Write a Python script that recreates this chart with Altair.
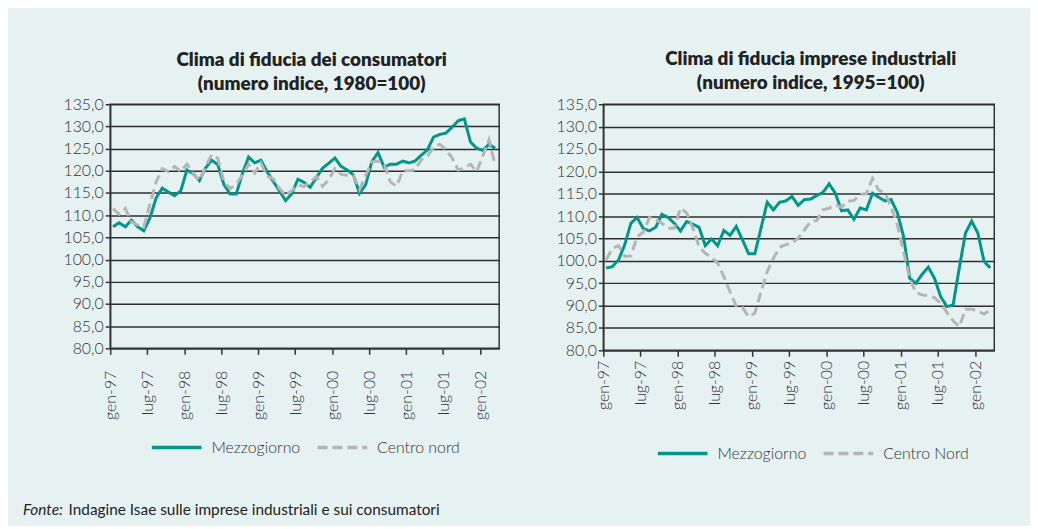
import altair as alt
import pandas as pd

# ---------------- data ----------------
tick_labels = ["gen-97", "lug-97", "gen-98", "lug-98", "gen-99", "lug-99",
               "gen-00", "lug-00", "gen-01", "lug-01", "gen-02"]
tick_months = [0, 6, 12, 18, 24, 30, 36, 42, 48, 54, 60]
y_ticks = [80, 85, 90, 95, 100, 105, 110, 115, 120, 125, 130, 135]

# Clima di fiducia dei consumatori (1980=100), gen-97 .. mar-02
cons_mezzo = [107.4, 108.3, 107.4, 108.9, 107.4, 106.5, 109.4, 113.9, 116.1, 115.2,
              114.4, 115.5, 120.2, 119.4, 117.8, 120.6, 122.4, 121.4, 116.9, 114.8,
              114.8, 119.4, 123.1, 121.8, 122.4, 119.8, 117.6, 115.5, 113.3, 114.8,
              118.1, 117.4, 116.3, 118.5, 120.6, 121.7, 122.9, 121.0, 120.2, 119.1,
              114.9, 116.9, 122.1, 124.1, 120.8, 121.5, 121.5, 122.2, 121.8, 122.2,
              123.5, 124.7, 127.6, 128.2, 128.5, 129.8, 131.3, 131.7, 126.5, 125.1,
              124.6, 126.0, 125.1]
cons_centro = [111.5, 110.2, 111.5, 108.5, 107.8, 107.3, 112.5, 117.5, 120.5, 119.8,
               121.0, 119.8, 121.5, 119.5, 117.8, 120.8, 123.6, 122.8, 117.5, 116.0,
               117.0, 119.0, 121.5, 119.5, 121.8, 118.8, 118.2, 116.0, 114.5, 115.5,
               116.8, 116.5, 117.5, 118.7, 116.5, 118.0, 120.5, 119.2, 119.0, 119.0,
               115.8, 119.0, 122.0, 122.2, 121.5, 117.5, 116.5, 120.0, 120.0, 120.2,
               122.5, 123.3, 125.3, 126.0, 124.8, 123.0, 120.2, 120.6, 121.5, 119.8,
               123.4, 127.0, 121.3]

# Clima di fiducia imprese industriali (1995=100), gen-97 .. mar-02
imp_mezzo = [98.4, 98.7, 100.2, 103.6, 108.4, 109.7, 107.2, 106.7, 107.5, 110.4,
             109.7, 108.4, 106.7, 108.8, 108.2, 107.5, 103.4, 104.9, 103.4, 106.8,
             105.7, 107.7, 104.7, 101.6, 101.6, 107.3, 113.1, 111.4, 113.1, 113.4,
             114.4, 112.4, 113.7, 113.8, 114.6, 115.3, 117.2, 115.1, 111.2, 111.4,
             109.3, 111.8, 111.4, 115.1, 114.2, 113.4, 113.7, 110.8, 105.5, 96.1,
             95.0, 97.0, 98.6, 96.1, 92.0, 89.8, 90.1, 98.4, 106.2, 108.9,
             106.2, 99.9, 98.4]
imp_centro = [100.2, 102.8, 103.4, 101.0, 101.1, 105.4, 106.4, 109.7, 109.2, 108.4,
              107.3, 107.3, 111.8, 110.7, 107.3, 103.2, 101.7, 100.8, 99.5, 96.5,
              93.1, 89.9, 89.6, 87.5, 88.3, 93.1, 97.6, 100.6, 103.0, 103.6,
              104.0, 105.1, 106.9, 108.8, 109.0, 111.4, 111.8, 112.5, 112.0, 113.3,
              113.5, 114.9, 115.0, 118.4, 115.8, 115.2, 112.0, 108.1, 102.1, 96.0,
              92.9, 92.4, 92.2, 91.8, 90.5, 88.5, 86.6, 85.3, 89.2, 89.2,
              88.8, 88.1, 89.0]

names_left = ["Mezzogiorno", "Centro nord"]
names_right = ["Mezzogiorno", "Centro Nord"]
title_left = ["Clima di fiducia dei consumatori", "(numero indice, 1980=100)"]
title_right = ["Clima di fiducia imprese industriali", "(numero indice, 1995=100)"]
fonte_label = "Fonte:"
fonte_text = "Indagine Isae sulle imprese industriali e sui consumatori"

# ---------------- style ----------------
FONT = "Lato"
TEAL = "#009688"
GRAY = "#B5B5B5"
BG = "#E6F2F2"
INK = "#333333"

x_label_expr = "[" + ",".join("'%s'" % t for t in tick_labels) + "][round(datum.value/6)]"
y_label_expr = "replace(format(datum.value, '.1f'), '.', ',')"


def panel(mezzo, centro, names, title, width, height, title_offset, title_dx,
          legend_x, legend_y, label_pad):
    n = len(mezzo)
    df = pd.DataFrame({
        "m": [i + 0.45 for i in range(n)] * 2,
        "v": mezzo + centro,
        "s": [names[0]] * n + [names[1]] * n,
    })
    leg = alt.Legend(title=None, orient="none", legendX=legend_x, legendY=legend_y,
                     direction="horizontal", symbolType="stroke", symbolSize=2500,
                     symbolStrokeWidth=3.5, labelFontSize=16, labelFont=FONT,
                     labelFontWeight=300, labelColor=INK, labelOffset=8,
                     columnPadding=10)
    return alt.Chart(df).mark_line(strokeWidth=3).encode(
        x=alt.X("m:Q",
                scale=alt.Scale(domain=[0, 63.1], nice=False, zero=False),
                axis=alt.Axis(values=tick_months, labelExpr=x_label_expr, title=None,
                              grid=False, labelAngle=270, labelAlign="right",
                              labelBaseline="middle", labelPadding=label_pad,
                              tickSize=6, labelFontSize=16, labelFont=FONT,
                              labelFontWeight=300, labelColor=INK,
                              domainColor=INK, tickColor=INK, domainWidth=1.5,
                              tickWidth=1.5)),
        y=alt.Y("v:Q",
                scale=alt.Scale(domain=[80, 135], nice=False, zero=False),
                axis=alt.Axis(values=y_ticks, labelExpr=y_label_expr, title=None,
                              grid=True, gridColor="#2e2e2e", gridWidth=1.5,
                              tickSize=5, labelFontSize=16, labelFont=FONT,
                              labelFontWeight=300, labelColor=INK, labelPadding=2,
                              domainColor=INK, tickColor=INK, domainWidth=1.5,
                              tickWidth=1.5, minExtent=50, maxExtent=50)),
        color=alt.Color("s:N", scale=alt.Scale(domain=names, range=[TEAL, GRAY]),
                        legend=leg),
        strokeDash=alt.StrokeDash("s:N",
                                  scale=alt.Scale(domain=names, range=[[1, 0], [10, 5]]),
                                  legend=leg),
    ).properties(
        width=width, height=height,
        title=alt.TitleParams(text=title, fontSize=19, font=FONT, fontWeight=800,
                              color="#222222", lineHeight=25, offset=title_offset,
                              dx=title_dx, anchor="middle"),
    )


left_lines = panel(cons_mezzo, cons_centro, names_left, title_left, 392, 246, 2, 7,
                   40, 319, 16)
right_lines = panel(imp_mezzo, imp_centro, names_right, title_right, 394, 248, 3, 12,
                    53, 325, 4)

fonte1 = alt.Chart(pd.DataFrame({"t": [fonte_label]})).mark_text(
    align="left", baseline="middle", fontSize=15.5, font=FONT, fontStyle="italic",
    color="#222222").encode(text="t:N", x=alt.value(-88), y=alt.value(409))
fonte2 = alt.Chart(pd.DataFrame({"t": [fonte_text]})).mark_text(
    align="left", baseline="middle", fontSize=15.5, font=FONT,
    color="#222222").encode(text="t:N", x=alt.value(-42), y=alt.value(409))

left = alt.layer(left_lines, fonte1, fonte2)

chart = alt.hconcat(left, right_lines, spacing=51).resolve_scale(
    color="independent", strokeDash="independent"
).resolve_legend(
    color="independent", strokeDash="independent"
).properties(
    padding={"left": 14, "top": 39, "right": 33, "bottom": 4},
    background=BG,
).configure_view(
    stroke=INK, strokeWidth=1.5
).configure_concat(spacing=51)

chart.save("out.html", embed_options={"renderer": "svg", "actions": False})
